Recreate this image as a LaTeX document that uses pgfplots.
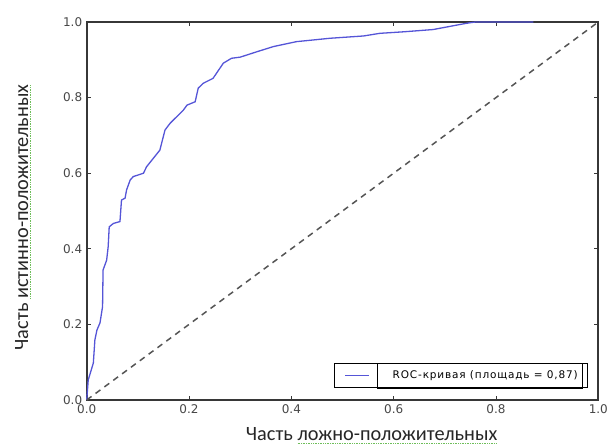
\documentclass[border=0pt]{standalone}
\usepackage{fontspec}
\setmainfont{DejaVu Sans}
\newfontfamily\labfont{Carlito}
\newfontfamily\legfont[LetterSpace=8]{DejaVu Sans}
\usepackage{pgfplots}
\pgfplotsset{compat=1.18}
\definecolor{roc}{RGB}{85,85,215}
\definecolor{axcol}{RGB}{55,55,55}
\definecolor{sq}{RGB}{110,190,90}
\newcommand\gline[1]{\setbox0\hbox{#1}\rlap{\color{sq}\xleaders\hbox{\rule[-3pt]{1pt}{0.9pt}\kern0.7pt}\hskip\wd0}\box0}
\begin{document}
\begin{tikzpicture}
\begin{axis}[
  width=511.6pt, height=378pt, scale only axis,
  xmin=0, xmax=1, ymin=0, ymax=1,
  xtick={0,0.2,0.4,0.6,0.8,1.0}, ytick={0,0.2,0.4,0.6,0.8,1.0},
  xticklabels={0.0,0.2,0.4,0.6,0.8,1.0},
  yticklabels={0.0,0.2,0.4,0.6,0.8,1.0},
  tick align=inside, major tick length=4pt,
  axis line style={draw=axcol, line width=1.8pt},
  tick style={draw=axcol, line width=0.8pt},
  tick label style={font=\fontsize{12}{12}\selectfont, text=black!72},
  xticklabel style={yshift=-1pt},
  yticklabel style={xshift=-1pt},
  xlabel={\labfont Часть \gline{ложно-положительных}},
  ylabel={\labfont Часть \gline{истинно-положительных}},
  label style={font=\fontsize{20.3}{20}\selectfont, text=black!85},
  xlabel style={at={(axis description cs:0.557,-0.1077)}, anchor=base},
  ylabel style={at={(axis description cs:-0.1147,0.483)}, anchor=base},
  legend style={at={(rel axis cs:0.980,0.032)}, anchor=south east,
    draw=black, fill=none, line width=0.8pt, font=\legfont\fontsize{10.5}{12}\selectfont,
    inner ysep=5.5pt, inner xsep=10pt, column sep=23pt,
    nodes={inner xsep=0pt, inner ysep=2pt}},
  legend image code/.code={\draw[#1] (0pt,0pt) -- (24pt,0pt);},
  clip=false,
]
\addplot[roc, line width=1.3pt] coordinates {
(0,0) (0.003,0.053) (0.013,0.098) (0.016,0.159) (0.020,0.185) (0.026,0.204)
(0.031,0.247) (0.032,0.344) (0.039,0.370) (0.042,0.406) (0.044,0.458)
(0.052,0.467) (0.065,0.472) (0.068,0.529) (0.075,0.534) (0.078,0.556)
(0.085,0.582) (0.091,0.591) (0.111,0.600) (0.117,0.617) (0.143,0.661)
(0.153,0.714) (0.163,0.732) (0.189,0.767) (0.196,0.780) (0.212,0.789)
(0.218,0.825) (0.228,0.838) (0.247,0.851) (0.267,0.891) (0.283,0.904)
(0.300,0.907) (0.332,0.921) (0.365,0.935) (0.410,0.948) (0.476,0.957)
(0.541,0.963) (0.573,0.970) (0.619,0.974) (0.677,0.980) (0.736,0.995)
(0.749,0.998) (0.760,1.0) (0.873,1.0)
};
\addlegendentry{ROC-кривая (площадь = 0,87)\hspace{18pt}}
\addplot[axcol!85, line width=1.5pt, dash pattern=on 6pt off 5pt, forget plot] coordinates {(0,0) (1,1)};
\draw[black, line width=0.8pt] (rel axis cs:0.569,0.032) rectangle (rel axis cs:0.968,0.098);
\end{axis}
\pgfresetboundingbox
\path[use as bounding box] ([xshift=-86.7pt,yshift=-46pt]current axis.south west) rectangle ([xshift=10.7pt,yshift=22pt]current axis.north east);
\end{tikzpicture}
\end{document}
